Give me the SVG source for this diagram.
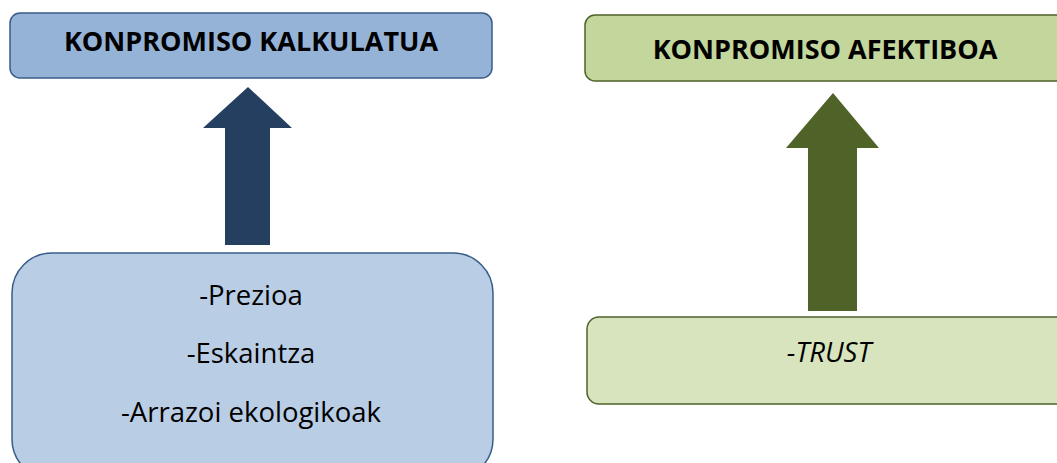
<svg xmlns="http://www.w3.org/2000/svg" width="1057" height="463" viewBox="0 0 1057 463">
  <style>
    .title { font-family: "Open Sans", "Noto Sans", sans-serif; font-weight: bold; font-size: 27px; fill: #000; text-anchor: middle; }
    .item { font-family: "Open Sans", "Noto Sans", sans-serif; font-size: 27.5px; fill: #000; text-anchor: middle; }
    .blue-head { fill: #95b3d7; stroke: #385d8a; stroke-width: 1.5; }
    .blue-body { fill: #b9cde5; stroke: #385d8a; stroke-width: 1.5; }
    .green-head { fill: #c3d69b; stroke: #4f6228; stroke-width: 1.5; }
    .green-body { fill: #d7e4bd; stroke: #4f6228; stroke-width: 1.5; }
  </style>

  <!-- calculated commitment -->
  <g id="kalkulatua">
    <rect class="blue-head" x="10" y="13" width="482" height="65" rx="10"/>
    <text class="title" x="251" y="51">KONPROMISO KALKULATUA</text>
  </g>
  <g id="faktoreak-kalkulatua">
    <rect class="blue-body" x="12" y="253" width="481" height="226" rx="40"/>
    <text class="item" x="251" y="305">-Prezioa</text>
    <text class="item" x="251" y="363">-Eskaintza</text>
    <text class="item" x="251" y="422">-Arrazoi ekologikoak</text>
  </g>

  <!-- affective commitment -->
  <g id="afektiboa">
    <rect class="green-head" x="585" y="15" width="481" height="66" rx="10"/>
    <text class="title" x="825" y="59">KONPROMISO AFEKTIBOA</text>
  </g>
  <g id="faktoreak-afektiboa">
    <rect class="green-body" x="587" y="317" width="484" height="87" rx="12"/>
    <text class="item" x="829" y="362" font-style="italic" font-size="29px">-TRUST</text>
  </g>

  <!-- block arrows -->
  <g id="connectors">
    <polygon fill="#243f60" points="248,87 292,128 270,128 270,245 225,245 225,128 203,128"/>
    <polygon fill="#4f6228" points="833,93 879,148 857,148 857,311 808,311 808,148 786,148"/>
  </g>
</svg>
